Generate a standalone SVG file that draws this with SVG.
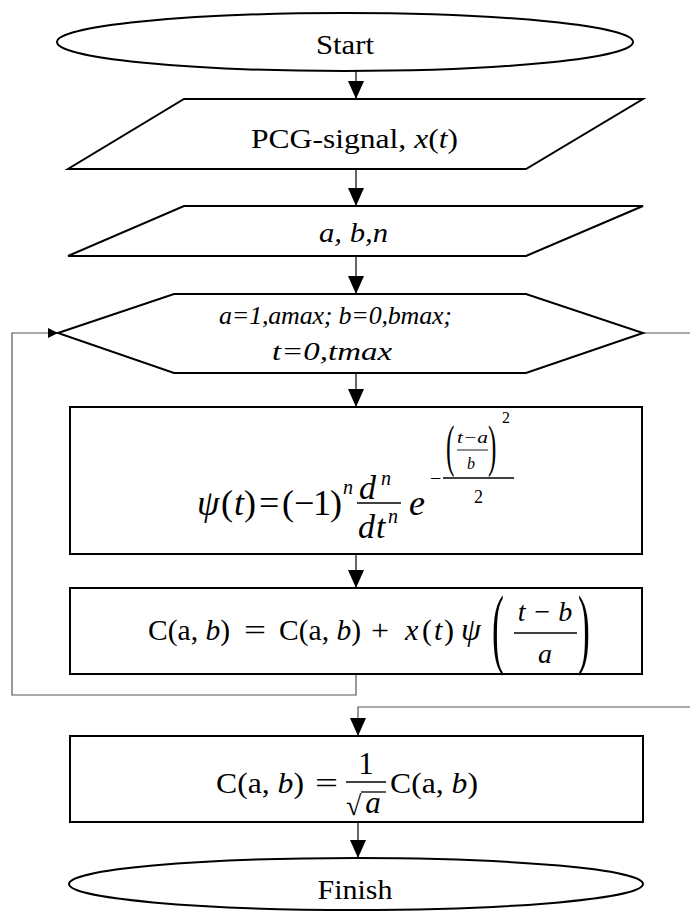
<svg xmlns="http://www.w3.org/2000/svg" width="690" height="912" viewBox="0 0 690 912">
<defs>
<style>
.sh{fill:#fff;stroke:#000;stroke-width:2}
.cn{fill:none;stroke:#000;stroke-width:1.2}
.lp{fill:none;stroke:#555;stroke-width:1.2}
.t{font-family:"Liberation Serif","Times New Roman",serif;fill:#000}
.i{font-style:italic}
.fl{stroke:#000;stroke-width:1.3}
</style>
<marker id="arr" viewBox="0 0 18 16" refX="18" refY="8" markerWidth="18" markerHeight="16" orient="auto" markerUnits="userSpaceOnUse"><path d="M0,0 L18,8 L0,16 z" fill="#000"/></marker>
<marker id="arrs" viewBox="0 0 10 10" refX="10" refY="5" markerWidth="10" markerHeight="10" orient="auto" markerUnits="userSpaceOnUse"><path d="M0,0 L10,5 L0,10 z" fill="#000"/></marker>
</defs>
<rect width="690" height="912" fill="#fff"/>

<g id="connectors">
<path class="cn" d="M356,71 V99" marker-end="url(#arr)"/>
<path class="cn" d="M356,169 V206" marker-end="url(#arr)"/>
<path class="cn" d="M356,256 V294" marker-end="url(#arr)"/>
<path class="cn" d="M356,373 V407" marker-end="url(#arr)"/>
<path class="cn" d="M356,554 V588" marker-end="url(#arr)"/>
<path class="lp" d="M356,674 V695 H12 V333 H58" marker-end="url(#arrs)"/>
<path class="lp" d="M643,333 H690"/>
<path class="lp" d="M690,707 H358 V736" marker-end="url(#arr)"/>
<path class="cn" d="M358,822 V858" marker-end="url(#arr)"/>
</g>

<g id="start">
<ellipse class="sh" cx="345" cy="42" rx="288" ry="29"/>
<text class="t" x="345" y="54" font-size="27" text-anchor="middle" textLength="58" lengthAdjust="spacingAndGlyphs">Start</text>
</g>

<g id="input-signal">
<polygon class="sh" points="184,99 643,99 526,169 68,169"/>
<text class="t" x="251" y="148" font-size="27" textLength="207" lengthAdjust="spacingAndGlyphs">PCG-signal,  <tspan class="i">x</tspan>(<tspan class="i">t</tspan>)</text>
</g>

<g id="input-params">
<polygon class="sh" points="184,206 643,206 526,256 68,256"/>
<text class="t i" x="319" y="242" font-size="28" textLength="69" lengthAdjust="spacingAndGlyphs">a, b,n</text>
</g>

<g id="loop">
<polygon class="sh" points="58,333 174,294 526,294 643,333 526,373 174,373"/>
<text class="t i" x="219" y="324" font-size="26" textLength="233" lengthAdjust="spacing">a=1,amax; b=0,bmax;</text>
<text class="t i" x="272" y="360" font-size="26" textLength="120" lengthAdjust="spacingAndGlyphs">t=0,tmax</text>
</g>

<g id="wavelet">
<rect class="sh" x="70" y="407" width="572" height="147"/>
<text class="t i" x="197" y="515" font-size="36">ψ</text>
<text class="t" x="221" y="515" font-size="36">(</text>
<text class="t i" x="234" y="515" font-size="36">t</text>
<text class="t" x="244" y="515" font-size="36">)</text>
<text class="t" x="259" y="515" font-size="36">=</text>
<text class="t" x="282" y="515" font-size="36">(</text>
<text class="t" x="294" y="515" font-size="36">−</text>
<text class="t" x="313" y="515" font-size="36">1</text>
<text class="t" x="330" y="515" font-size="36">)</text>
<text class="t i" x="343" y="494" font-size="20">n</text>
<text class="t i" x="359" y="499" font-size="34">d</text>
<text class="t i" x="381" y="485" font-size="20">n</text>
<line class="fl" x1="357" y1="503" x2="401" y2="503"/>
<text class="t i" x="358" y="538" font-size="34">d</text>
<text class="t i" x="376" y="538" font-size="34">t</text>
<text class="t i" x="388" y="523" font-size="20">n</text>
<text class="t i" x="409" y="515" font-size="36">e</text>
<text class="t" x="430" y="485" font-size="20">−</text>
<line class="fl" x1="443" y1="478" x2="514" y2="478"/>
<text class="t" transform="translate(446,465) scale(0.45,1)" font-size="56">(</text>
<text class="t i" x="457" y="443" font-size="16" textLength="31" lengthAdjust="spacingAndGlyphs">t−a</text>
<line x1="457" y1="450" x2="488" y2="450" stroke="#000" stroke-width="0.9"/>
<text class="t i" x="467" y="469" font-size="16">b</text>
<text class="t" transform="translate(488,465) scale(0.45,1)" font-size="56">)</text>
<text class="t" x="502" y="423" font-size="16">2</text>
<text class="t" x="474" y="503" font-size="18">2</text>
</g>

<g id="accumulate">
<rect class="sh" x="70" y="588" width="572" height="86"/>
<text class="t" x="148" y="640" font-size="30" textLength="82" lengthAdjust="spacingAndGlyphs">C(a, <tspan class="i">b</tspan>)</text>
<text class="t" x="244" y="640" font-size="30" textLength="22" lengthAdjust="spacingAndGlyphs">=</text>
<text class="t" x="279" y="640" font-size="30" textLength="82" lengthAdjust="spacingAndGlyphs">C(a, <tspan class="i">b</tspan>)</text>
<text class="t" x="371" y="640" font-size="30" textLength="18" lengthAdjust="spacingAndGlyphs">+</text>
<text class="t" y="640" font-size="30"><tspan class="i" x="405">x</tspan><tspan x="422">(</tspan><tspan class="i" x="434">t</tspan><tspan x="444">)</tspan></text>
<text class="t i" x="461" y="640" font-size="32">ψ</text>
<text class="t" transform="translate(492,657) scale(0.4,1)" font-size="89">(</text>
<text class="t i" x="545" y="621" font-size="28" text-anchor="middle">t − b</text>
<line class="fl" x1="514" y1="633" x2="577" y2="633"/>
<text class="t i" x="545" y="663" font-size="28" text-anchor="middle">a</text>
<text class="t" transform="translate(578,657) scale(0.4,1)" font-size="89">)</text>
</g>

<g id="normalize">
<rect class="sh" x="70" y="736" width="573" height="86"/>
<text class="t" x="216" y="793" font-size="30" textLength="88" lengthAdjust="spacingAndGlyphs">C(a, <tspan class="i">b</tspan>)</text>
<text class="t" x="315" y="793" font-size="30" textLength="23" lengthAdjust="spacingAndGlyphs">=</text>
<text class="t" x="366" y="774" font-size="31" text-anchor="middle">1</text>
<line class="fl" x1="346" y1="782" x2="386" y2="782"/>
<text class="t" x="346" y="815" font-size="28">√</text>
<line x1="361" y1="792" x2="386" y2="792" stroke="#000" stroke-width="1.3"/>
<text class="t i" x="373" y="813" font-size="31" text-anchor="middle">a</text>
<text class="t" x="390" y="793" font-size="30" textLength="88" lengthAdjust="spacingAndGlyphs">C(a, <tspan class="i">b</tspan>)</text>
</g>

<g id="finish">
<ellipse class="sh" cx="356" cy="884" rx="287" ry="26"/>
<text class="t" x="355" y="899" font-size="27" text-anchor="middle" textLength="75" lengthAdjust="spacingAndGlyphs">Finish</text>
</g>
</svg>
